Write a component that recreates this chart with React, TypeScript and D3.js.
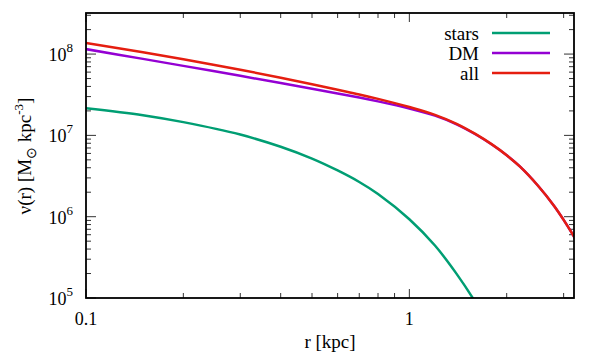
import * as d3 from "d3";

// radius samples [kpc]
const radii = [0.1, 0.15, 0.2, 0.3, 0.4, 0.5, 0.6, 0.7, 0.8, 1.0, 1.2, 1.4, 1.6, 1.8, 2.0, 2.2, 2.5, 2.8, 3.0, 3.2, 3.3];

// densities [Msun kpc^-3]
const stars = [2.16e7, 1.774e7, 1.455e7, 1.023e7, 7.24e6, 5.18e6, 3.7e6, 2.67e6, 1.9e6, 9.31e5, 4.42e5, 1.98e5, 8.9e4, 3.98e4, null, null, null, null, null, null, null];
const dm = [1.151e8, 8.73e7, 7.16e7, 5.4e7, 4.4e7, 3.74e7, 3.27e7, 2.92e7, 2.62e7, 2.14e7, 1.75e7, 1.368e7, 1.033e7, 7.71e6, 5.68e6, 4.12e6, 2.4e6, 1.365e6, 9.14e5, 6.05e5, 4.9e5];
const all = [1.367e8, 1.05e8, 8.62e7, 6.42e7, 5.12e7, 4.26e7, 3.64e7, 3.19e7, 2.81e7, 2.23e7, 1.79e7, 1.388e7, 1.042e7, 7.75e6, 5.7e6, 4.12e6, 2.4e6, 1.365e6, 9.14e5, 6.05e5, 4.9e5];

const xMajor = [0.1, 1];
const xMajorLabels = ["0.1", "1"];
const xMinor = [0.2, 0.3, 0.4, 0.5, 0.6, 0.7, 0.8, 0.9, 2, 3];
const yExponents = [5, 6, 7, 8];
const yMinorMult = [2, 3, 4, 5, 6, 7, 8, 9];

const series = [
  { name: "stars", values: stars, color: "#009e73" },
  { name: "DM", values: dm, color: "#9400d3" },
  { name: "all", values: all, color: "#e51e10" },
];

const W = 598;
const H = 359;
const margin = { top: 13, right: 24, bottom: 61, left: 86 };
const font = "'Liberation Serif', 'Times New Roman', serif";

export default function App() {
  const x = d3.scaleLog().domain([0.1, 3.23]).range([margin.left, W - margin.right]);
  const y = d3.scaleLog().domain([1e5, 3.2e8]).range([H - margin.bottom, margin.top]);
  const x0 = margin.left;
  const x1 = W - margin.right;
  const y0 = H - margin.bottom;
  const y1 = margin.top;

  const yMinor: number[] = [];
  yExponents.forEach((e) =>
    yMinorMult.forEach((m) => {
      const v = m * Math.pow(10, e);
      if (v < 3.2e8) yMinor.push(v);
    })
  );

  const line = (vals: (number | null)[]) =>
    d3
      .line<number>()
      .defined((_, i) => vals[i] != null)
      .x((r) => x(r))
      .y((_, i) => y(vals[i] as number))
      .curve(d3.curveCatmullRom.alpha(0.5))(radii) || "";

  const tick = "#333";

  return (
    <svg width={W} height={H} style={{ position: "absolute", left: 0, top: 0, background: "#fff" }} fontFamily={font}>
      <defs>
        <clipPath id="plot">
          <rect x={x0} y={y1} width={x1 - x0} height={y0 - y1} />
        </clipPath>
      </defs>

      {/* ticks, mirrored on all sides */}
      <g stroke={tick} strokeWidth={1}>
        {xMajor.map((v) => (
          <g key={"xM" + v}>
            <line x1={x(v)} x2={x(v)} y1={y0} y2={y0 - 9} />
            <line x1={x(v)} x2={x(v)} y1={y1} y2={y1 + 9} />
          </g>
        ))}
        {xMinor.map((v) => (
          <g key={"xm" + v}>
            <line x1={x(v)} x2={x(v)} y1={y0} y2={y0 - 5} />
            <line x1={x(v)} x2={x(v)} y1={y1} y2={y1 + 5} />
          </g>
        ))}
        {yExponents.map((e) => (
          <g key={"yM" + e}>
            <line x1={x0} x2={x0 + 10} y1={y(Math.pow(10, e))} y2={y(Math.pow(10, e))} />
            <line x1={x1} x2={x1 - 10} y1={y(Math.pow(10, e))} y2={y(Math.pow(10, e))} />
          </g>
        ))}
        {yMinor.map((v) => (
          <g key={"ym" + v}>
            <line x1={x0} x2={x0 + 5} y1={y(v)} y2={y(v)} />
            <line x1={x1} x2={x1 - 5} y1={y(v)} y2={y(v)} />
          </g>
        ))}
      </g>

      {/* curves */}
      <g clipPath="url(#plot)" fill="none" strokeWidth={2.5}>
        {series.map((s) => (
          <path key={s.name} d={line(s.values)} stroke={s.color} />
        ))}
      </g>

      {/* frame */}
      <rect x={x0} y={y1} width={x1 - x0} height={y0 - y1} fill="none" stroke="#000" strokeWidth={1.8} />

      {/* x tick labels */}
      <g fontSize={18} textAnchor="middle">
        {xMajor.map((v, i) => (
          <text key={"xl" + v} x={x(v)} y={y0 + 27}>
            {xMajorLabels[i]}
          </text>
        ))}
      </g>

      {/* y tick labels */}
      <g fontSize={18} textAnchor="end">
        {yExponents.map((e) => (
          <text key={"yl" + e} x={x0 - 13} y={y(Math.pow(10, e)) + 7}>
            10
            <tspan fontSize={13} dy={-9}>
              {e}
            </tspan>
          </text>
        ))}
      </g>

      {/* axis titles */}
      <text x={(x0 + x1) / 2} y={348} fontSize={19} textAnchor="middle">
        r [kpc]
      </text>
      <text transform={`translate(31,156) rotate(-90)`} fontSize={19} textAnchor="middle">
        ν(r) [M
        <tspan fontSize={14} dy={5}>
          ⊙
        </tspan>
        <tspan dy={-5}> kpc</tspan>
        <tspan fontSize={13} dy={-8}>
          -3
        </tspan>
        <tspan dy={8}>]</tspan>
      </text>

      {/* legend */}
      <g fontSize={19}>
        {series.map((s, i) => (
          <g key={"lg" + s.name} transform={`translate(0,${33 + i * 20})`}>
            <text x={479} y={6.5} textAnchor="end">
              {s.name}
            </text>
            <line x1={492} x2={550} y1={0} y2={0} stroke={s.color} strokeWidth={2.5} />
          </g>
        ))}
      </g>
    </svg>
  );
}
